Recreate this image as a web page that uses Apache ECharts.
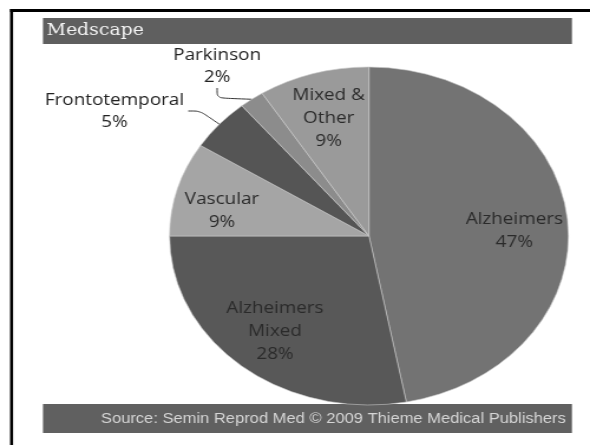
<!DOCTYPE html>
<html><head><meta charset="utf-8">
<script src="https://cdn.jsdelivr.net/npm/echarts@6/dist/echarts.min.js"></script>
<style>
html,body{margin:0;padding:0;background:#fff;overflow:hidden;}
#wrap{width:590px;height:445px;overflow:hidden;position:relative;}
#chart{width:500px;height:445px;transform:scaleX(1.18);transform-origin:0 0;}
</style></head>
<body><div id="wrap"><div id="chart"></div></div>
<script>
const categories = ['Alzheimers', 'Alzheimers\nMixed', 'Vascular', 'Frontotemporal', 'Parkinson', 'Mixed &\nOther'];
const values = [47, 28, 9, 5, 2, 9];
const sliceColors = ['#737373', '#585858', '#a5a5a5', '#555555', '#8c8c8c', '#9a9a9a'];
const outsideLabels = ['Frontotemporal', 'Parkinson'];
const titleText = 'Medscape';
const sourceText = 'Source: Semin Reprod Med \u00a9 2009 Thieme Medical Publishers';

const chart = echarts.init(document.getElementById('chart'), null, {renderer: 'canvas'});
const CX = 312.7, CY = 236, R = 169;
// label anchor spots for the two outside labels (pre-scale px)
const outsideLabelSpots = {Frontotemporal: [97, 111], Parkinson: [184, 66]};
// small nudges for inside labels (pre-scale px)
const insideNudges = {'Alzheimers': [-6, 7], 'Alzheimers\nMixed': [3, -5], 'Vascular': [0, 11], 'Mixed &\nOther': [2, 7]};

const mainData = categories.map((c, i) => {
  const outside = outsideLabels.includes(c);
  return {
    name: c, value: values[i],
    itemStyle: {color: sliceColors[i]},
    label: {show: outside},
    labelLine: {show: outside}
  };
});
const overlayData = categories.map((c, i) => ({
  name: c, value: values[i],
  label: {show: !outsideLabels.includes(c), offset: insideNudges[c] || [0, 0]}
}));

chart.setOption({
  animation: false,
  graphic: [
    {type: 'rect', shape: {x: 8.5, y: 9, width: 500, height: 3}, style: {fill: '#000'}},
    {type: 'rect', shape: {x: 8.5, y: 9, width: 2.6, height: 436}, style: {fill: '#000'}},
    {type: 'rect', shape: {x: 36.4, y: 18, width: 448.3, height: 26}, style: {fill: '#5f5f5f'}},
    {type: 'text', x: 39.5, y: 31, style: {text: titleText, fill: '#f4f4f4', font: '16px "DejaVu Serif"', verticalAlign: 'middle', align: 'left'}},
    {type: 'rect', shape: {x: 36.4, y: 404, width: 448.3, height: 29}, style: {fill: '#606060'}},
    {type: 'text', x: 479.5, y: 419, style: {text: sourceText, fill: '#d6d6d6', font: '14px "Liberation Sans"', verticalAlign: 'middle', align: 'right'}}
  ],
  series: [
    {
      type: 'pie',
      center: [CX, CY],
      radius: [0, R],
      startAngle: 90,
      clockwise: true,
      silent: true,
      data: mainData,
      itemStyle: {borderColor: '#c8c8c8', borderWidth: 0.6},
      label: {
        position: 'outside',
        color: '#222',
        fontFamily: 'Open Sans',
        fontSize: 16,
        lineHeight: 22,
        formatter: p => '{a|' + p.name + '}\n{a|' + p.value + '%}',
        rich: {a: {fontFamily: 'Open Sans', fontSize: 16, lineHeight: 22, color: '#222', width: 125, align: 'center'}}
      },
      labelLine: {length: 18, length2: 10, smooth: 0.3, lineStyle: {color: '#333', width: 1}},
      labelLayout: p => {
        const spot = outsideLabelSpots[categories[p.dataIndex]];
        if (!spot) return {};
        return {x: spot[0], y: spot[1], align: 'center', verticalAlign: 'middle'};
      }
    },
    {
      type: 'pie',
      center: [CX, CY],
      radius: [R * 0.5, R],
      startAngle: 90,
      clockwise: true,
      silent: true,
      data: overlayData,
      itemStyle: {color: 'rgba(0,0,0,0)'},
      label: {
        position: 'inside',
        color: '#2a2a2a',
        fontFamily: 'Open Sans',
        fontSize: 16,
        lineHeight: 23,
        formatter: p => p.name + '\n' + p.value + '%'
      },
      labelLine: {show: false}
    }
  ]
});
</script></body></html>
